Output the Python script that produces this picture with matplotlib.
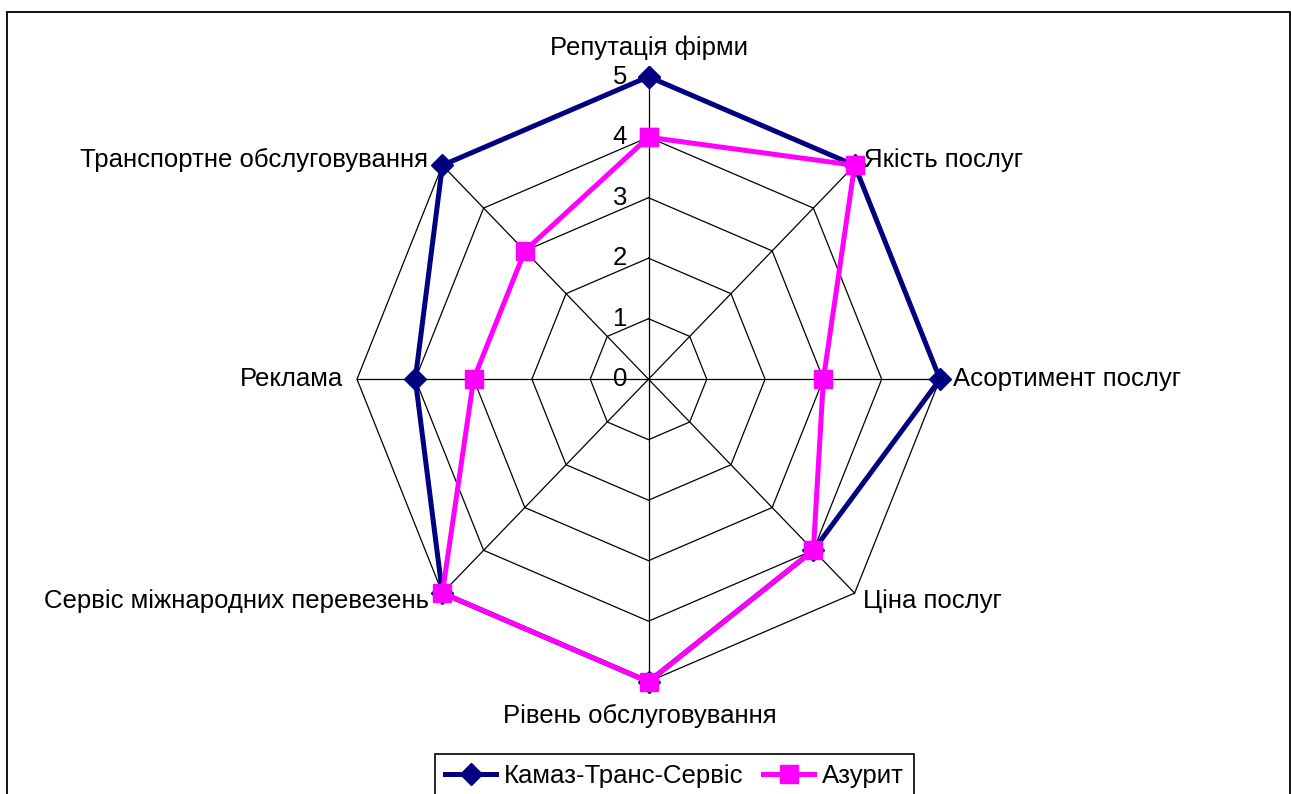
import matplotlib
matplotlib.use('Agg')
import matplotlib.pyplot as plt
import numpy as np
from matplotlib.patches import Rectangle

plt.rcParams['font.family'] = ['Liberation Sans', 'DejaVu Sans']

categories = [
    'Репутація фірми',
    'Якість послуг',
    'Асортимент послуг',
    'Ціна послуг',
    'Рівень обслуговування',
    'Сервіс міжнародних перевезень',
    'Реклама',
    'Транспортне обслуговування',
]
kamaz = [5, 5, 5, 4, 5, 5, 4, 5]
azurit = [4, 5, 3, 4, 5, 5, 3, 3]
ring_values = [1, 2, 3, 4, 5]
tick_labels = ['0', '1', '2', '3', '4', '5']

# label offsets (points) from the outer vertex of each spoke
label_offsets = [(0, 21), (7, 4), (9, 0), (6, -6), (-6, -25), (-10, -6), (-10, 0), (-10, 4)]
label_align = ['center', 'left', 'left', 'left', 'center', 'right', 'right', 'right']

FS = 18.5
W, H = 1291, 794
CX, CY = 648.5, 379.2        # centre in pixels
SX, SY = 58.3, 60.5          # pixels per unit, horizontal / vertical

n = len(categories)
theta = np.arange(n) * 2 * np.pi / n


def to_xy(r, th):
    return np.asarray(r) * np.sin(th), np.asarray(r) * np.cos(th)


fig = plt.figure(figsize=(W / 100, H / 100), dpi=100)
ax = fig.add_axes([0, 0, 1, 1])
ax.set_xlim(-CX / SX, (W - CX) / SX)
ax.set_ylim(-(H - CY) / SY, CY / SY)
ax.axis('off')

# octagonal grid and spokes
for rv in ring_values:
    th = np.append(theta, theta[0])
    x, y = to_xy(np.full(th.size, rv), th)
    ax.plot(x, y, color='black', lw=0.9, zorder=1)
for th in theta:
    x, y = to_xy([0, ring_values[-1]], [th, th])
    ax.plot(x, y, color='black', lw=0.9, zorder=1)

# radial scale
for i, lab in enumerate(tick_labels):
    ax.text(-0.37, i, lab, ha='right', va='center', fontsize=FS, zorder=2)

# series
th_closed = np.append(theta, theta[0])
kx, ky = to_xy(kamaz + kamaz[:1], th_closed)
ax.plot(kx, ky, color='#000080', lw=3.6, marker='D', markersize=11,
        label='Камаз-Транс-Сервіс', zorder=3)
zx, zy = to_xy(azurit + azurit[:1], th_closed)
ax.plot(zx, zy, color='#FF00FF', lw=3.6, marker='s', markersize=13,
        label='Азурит', zorder=4)

# category labels
for i, cat in enumerate(categories):
    x, y = to_xy(ring_values[-1], theta[i])
    ax.annotate(cat, (x, y), xytext=label_offsets[i], textcoords='offset points',
                ha=label_align[i], va='center', fontsize=FS)

leg = ax.legend(loc='upper center', bbox_to_anchor=(674.5 / W, 1 - 754 / H),
                bbox_transform=fig.transFigure, ncol=2, fontsize=FS,
                frameon=True, fancybox=False, framealpha=1, edgecolor='black',
                handlelength=2.0, handletextpad=0.3, columnspacing=0.75,
                borderpad=0.4, borderaxespad=0)
leg.get_frame().set_linewidth(1.2)

# outer chart border
fig.patches.append(Rectangle((7 / W, -0.05), (1290 - 7) / W, 1.05 - 12 / H,
                             transform=fig.transFigure, fill=False,
                             edgecolor='black', lw=1.3))

fig.savefig('out.png', dpi=100)
